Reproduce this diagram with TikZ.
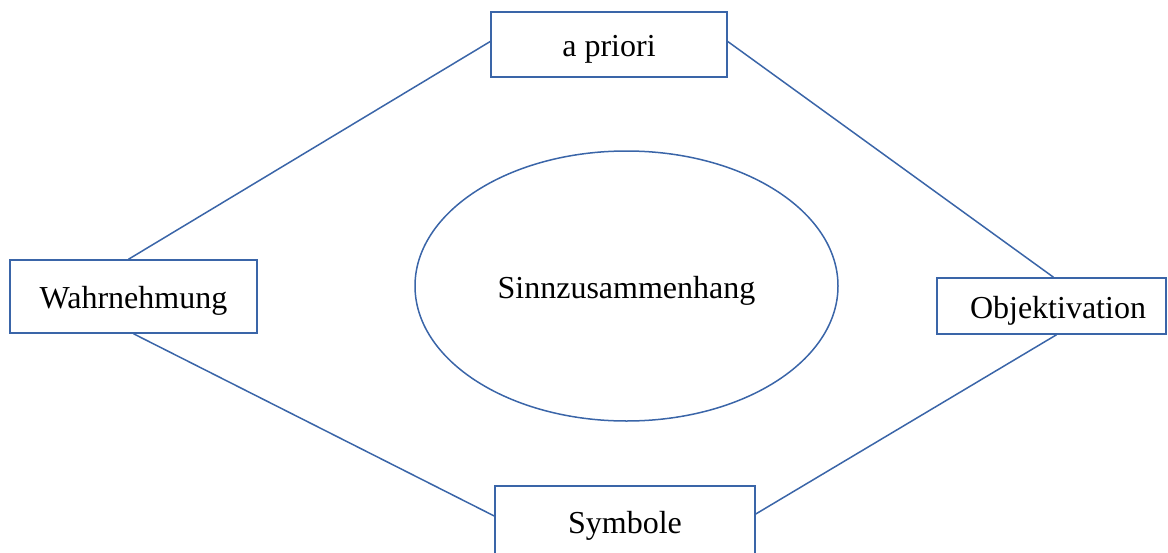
\documentclass[tikz,border=0pt]{standalone}
\usepackage{fontspec}
\setmainfont{Liberation Serif}
\usetikzlibrary{shapes.geometric}
\definecolor{lineblue}{RGB}{58,101,168}
\tikzset{
  box/.style={draw=lineblue, line width=1.5pt, rectangle, inner sep=0pt, font=\fontsize{32}{38}\selectfont, text height=31pt, text depth=7pt},
  conn/.style={draw=lineblue, line width=1.5pt},
}
\begin{document}
\begin{tikzpicture}[x=1pt,y=-1pt]
\useasboundingbox (0,0) rectangle (1168,552);
\node[box, minimum width=236pt, minimum height=65pt] (ap) at (609,44.5) {a priori};
\node[box, minimum width=247pt, minimum height=73pt] (wa) at (133.5,296.5) {Wahrnehmung};
\node[box, minimum width=229pt, minimum height=56pt] (ob) at (1051.5,306) {\hspace*{13pt}Objektivation};
\node[box, minimum width=260pt, minimum height=70pt] (sy) at (625,521) {Symbole};
\node[draw=lineblue, line width=1.5pt, ellipse, minimum width=423pt, minimum height=270pt, inner sep=0pt, font=\fontsize{32}{38}\selectfont, text height=31pt, text depth=7pt] (si) at (626.5,286) {Sinnzusammenhang};
\draw[conn] ([xshift=-5pt]wa.north) -- ([yshift=3pt]ap.west);
\draw[conn] ([yshift=3pt]ap.east) -- ([xshift=2pt]ob.north);
\draw[conn] (wa.south) -- ([yshift=5pt]sy.west);
\draw[conn] ([xshift=5pt]ob.south) -- ([yshift=7pt]sy.east);
\end{tikzpicture}
\end{document}
